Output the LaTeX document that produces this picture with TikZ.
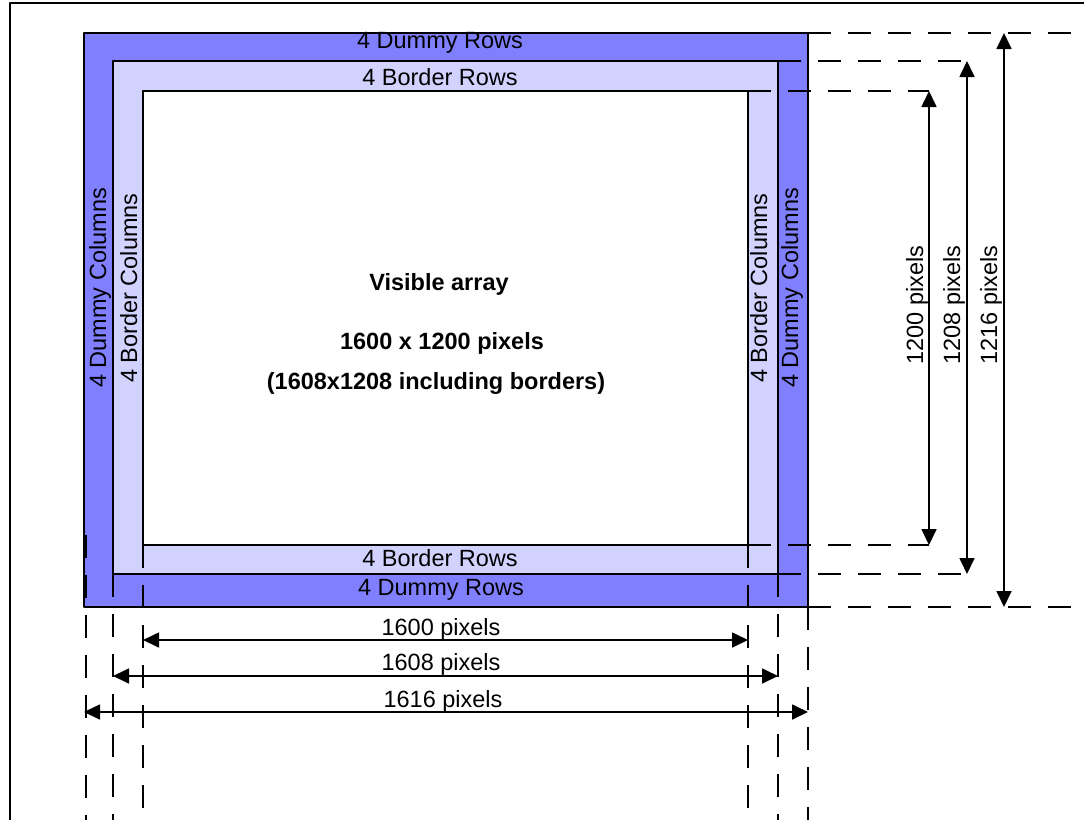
\documentclass[tikz,border=0pt]{standalone}
\usepackage{fontspec}
\setmainfont{Liberation Sans}
\usetikzlibrary{arrows.meta}
\definecolor{dummyblue}{RGB}{128,128,255}
\definecolor{borderblue}{RGB}{210,210,255}

\begin{document}
\begin{tikzpicture}[x=1pt, y=-1pt, line width=1.7pt, line join=round,
		font=\fontsize{23.5}{27}\selectfont, >={Triangle[length=16pt, width=15pt]},
		guide/.style={dash pattern=on 23pt off 17pt},
		lbl/.style={anchor=base, inner sep=0pt},
		vlbl/.style={anchor=base, inner sep=0pt, rotate=90}]
	\useasboundingbox (0,0) rectangle (1084,820);
	\draw (10,820) -- (10,3) -- (1084,3);
	
	\coordinate (d1) at (84,33);
	\coordinate (d2) at (808,607);
	\coordinate (b1) at (113,61);
	\coordinate (b2) at (778,574);
	\coordinate (v1) at (143,91);
	\coordinate (v2) at (748,545);
	
	\fill[dummyblue] (d1) rectangle (d2);
	\fill[borderblue] (b1) rectangle (b2);
	\fill[white] (v1) rectangle (v2);
	\draw (d1) rectangle (d2);
	\draw (b1) rectangle (b2);
	\draw (v1) rectangle (v2);
	
	% guide lines
	\draw[guide] (808,33) -- (1080,33);
	\draw[guide] (778,61) -- (967,61);
	\draw[guide] (748,91) -- (929,91);
	\draw[guide] (748,545) -- (929,545);
	\draw[guide] (778,574) -- (967,574);
	\draw[guide] (808,607) -- (1080,607);
	\foreach \x/\y in {86/535, 113/574, 143/545, 748/545, 778/574, 808/607}
		\draw[guide] (\x,\y) -- (\x,820);
	
	% rows and columns
	\node[lbl] (dummytop) at (440,48.5) {4 Dummy Rows};
	\node[lbl] (bordertop) at (440,85) {4 Border Rows};
	\node[lbl] (borderbot) at (440,566) {4 Border Rows};
	\node[lbl] (dummybot) at (441,595) {4 Dummy Rows};
	\node[vlbl] (dummyleft) at (106,288) {4 Dummy Columns};
	\node[vlbl] (borderleft) at (137,288) {4 Border Columns};
	\node[vlbl] (borderright) at (767,288) {4 Border Columns};
	\node[vlbl] (dummyright) at (798,288) {4 Dummy Columns};
	
	\node[lbl, font=\fontsize{23.5}{27}\selectfont\bfseries] (title) at (439,290) {Visible array};
	\node[lbl, font=\fontsize{23.5}{27}\selectfont\bfseries] (size) at (442,349) {1600 x 1200 pixels};
	\node[lbl, font=\fontsize{23.5}{27}\selectfont\bfseries] (total) at (436,389) {(1608x1208 including borders)};
	
	% dimensions
	\coordinate (h0l) at (143,640);
	\coordinate (h0r) at (748,640);
	\coordinate (h1l) at (113,676);
	\coordinate (h1r) at (778,676);
	\coordinate (h2l) at (84,712);
	\coordinate (h2r) at (808,712);
	\draw[<->] (h0l) -- (h0r);
	\draw[<->] (h1l) -- (h1r);
	\draw[<->] (h2l) -- (h2r);
	\node[lbl] (w1600) at (441,635) {1600 pixels};
	\node[lbl] (w1608) at (441,670) {1608 pixels};
	\node[lbl] (w1616) at (443,707) {1616 pixels};
	
	\coordinate (v0t) at (929,91);
	\coordinate (v0b) at (929,545);
	\coordinate (v1t) at (967,61);
	\coordinate (v1b) at (967,574);
	\coordinate (v2t) at (1004,33);
	\coordinate (v2b) at (1004,607);
	\draw[<->] (v0t) -- (v0b);
	\draw[<->] (v1t) -- (v1b);
	\draw[<->] (v2t) -- (v2b);
	\node[vlbl] (h1200) at (923,305) {1200 pixels};
	\node[vlbl] (h1208) at (960,305) {1208 pixels};
	\node[vlbl] (h1216) at (997,305) {1216 pixels};
	
\end{tikzpicture}
\end{document}
